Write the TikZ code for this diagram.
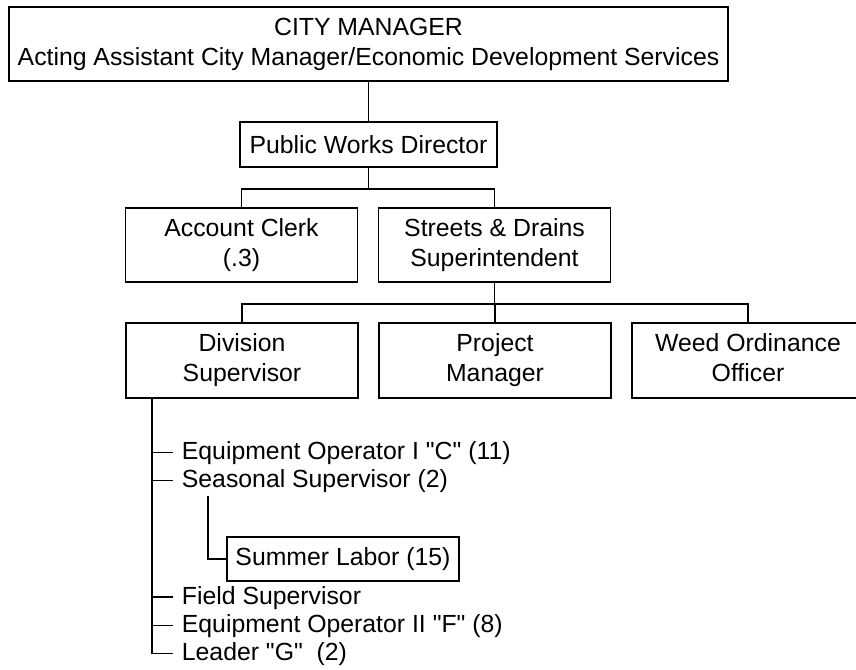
\documentclass[tikz,border=0pt]{standalone}
\usepackage{fontspec}
\setmainfont{Liberation Sans}
\usepackage{tikz}
\usetikzlibrary{positioning}

\begin{document}
\begin{tikzpicture}[x=1pt, y=-1pt,
    line width=1.8pt,
    box/.style={
      draw, line width=1.8pt, inner sep=0pt, align=center,
      minimum width=232pt, minimum height=74pt,
      font=\fontsize{24.8}{30}\selectfont
    },
    item/.style={
      anchor=base west, inner sep=0pt,
      font=\fontsize{24.8}{30}\selectfont
    },
    tick/.style={line width=1.8pt}
  ]
  \useasboundingbox (0,0) rectangle (856,669);
  \clip (0,0) rectangle (856,669);

  % ===== Top of the chart =====
  \node[box, minimum width=719pt] (city) at (368.5,44)
    {CITY MANAGER\\Acting Assistant City Manager/Economic Development Services};
  \node[box, minimum width=257pt, minimum height=45pt] (pwd) at (368.5,144.5)
    {Public Works Director};
  \draw (city.south) -- (pwd.north);

  % ===== Second level =====
  \node[box] (clerk) at (241.5,245) {Account Clerk\\(.3)};
  \node[box] (streets) at (494.5,245) {Streets \& Drains\\Superintendent};
  \draw (pwd.south) -- ++(0,21) -| (clerk.north);
  \draw (pwd.south) -- ++(0,21) -| (streets.north);

  % ===== Third level =====
  \node[box, minimum height=75pt] (division) at (242,360.5) {Division\\Supervisor};
  \node[box, minimum height=75pt] (project) at (495,360.5) {Project\\Manager};
  \node[box, minimum height=75pt] (weed) at (748,360.5) {Weed Ordinance\\Officer\vphantom{p}};
  \draw (streets.south) -- ++(0,21) -| (division.north);
  \draw (streets.south) -- ++(0,21) -| (project.north);
  \draw (streets.south) -- ++(0,21) -| (weed.north);

  % ===== Division staff list =====
  \coordinate (trunk) at ([xshift=27pt]division.south west);
  \node[item] (eqone) at (181,459.5) {Equipment Operator I \textquotedbl C\textquotedbl{} (11)};
  \node[item] (seas) at (181,487.5) {Seasonal Supervisor (2)};
  \node[item] (field) at (181,604) {Field Supervisor};
  \node[item] (eqtwo) at (181,632.5) {Equipment Operator II \textquotedbl F\textquotedbl{} (8)};
  \node[item] (leader) at (181,660.5) {Leader \textquotedbl G\textquotedbl~~(2)};

  \foreach \n in {eqone,seas,field,eqtwo,leader}
    \coordinate (\n-tip) at ([xshift=-8pt,yshift=7pt]\n.base west);
  \draw (trunk) |- (leader-tip);
  \foreach \n in {eqone,seas,field,eqtwo}
    \draw[tick] (trunk |- \n-tip) -- (\n-tip);

  % Summer labor under seasonal supervisor
  \node[box, minimum height=44pt] (summer) at (343,559) {Summer Labor (15)};
  \draw ([xshift=27pt,yshift=-8pt]seas.base west) |- (summer.west);

\end{tikzpicture}
\end{document}
